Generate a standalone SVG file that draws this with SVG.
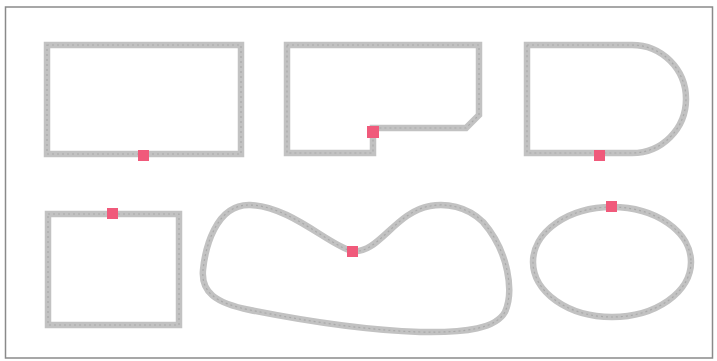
<svg xmlns="http://www.w3.org/2000/svg" width="717" height="361" viewBox="0 0 717 361">
<style>
.frame{fill:#fff;stroke:#8a8a8a;stroke-width:1.5}
.wall{fill:none;stroke:#c2c2c2;stroke-width:6.5;stroke-linejoin:miter}
.tex{fill:none;stroke:#a9a9a9;stroke-width:1.2;stroke-dasharray:2 3}
.pt{fill:#f05a7b}
</style>
<rect width="717" height="361" fill="#fff"/>
<rect class="frame" x="5.5" y="7" width="707" height="351"/>
<g id="shape-rect">
<rect class="wall" x="47" y="45" width="194" height="109"/>
<rect class="tex" x="47" y="45" width="194" height="109"/>
<rect class="pt" x="138" y="150" width="11" height="11"/>
</g>
<g id="shape-notched">
<path class="wall" d="M287,45 H479 V115 L466,128 H373 V153 H287 Z"/>
<path class="tex" d="M287,45 H479 V115 L466,128 H373 V153 H287 Z"/>
<rect class="pt" x="367" y="126" width="12" height="12"/>
</g>
<g id="shape-d">
<path class="wall" d="M527,45 H632 A54,54 0 0 1 632,153 H527 Z"/>
<path class="tex" d="M527,45 H632 A54,54 0 0 1 632,153 H527 Z"/>
<rect class="pt" x="594" y="150" width="11" height="11"/>
</g>
<g id="shape-square">
<rect class="wall" x="48" y="214" width="131" height="111"/>
<rect class="tex" x="48" y="214" width="131" height="111"/>
<rect class="pt" x="107" y="208" width="11" height="11"/>
</g>
<g id="shape-blob">
<path class="wall" d="M352,251 C330,246 290,206 250,205 C215,204 205,250 203,270 C201,292 215,303 250,310 C300,320 360,330 420,332 C468,333 496,328 505,312 C514,292 509,252 483,222 C467,206 445,203 430,206 C395,212 378,255 352,251 Z"/>
<path class="tex" d="M352,251 C330,246 290,206 250,205 C215,204 205,250 203,270 C201,292 215,303 250,310 C300,320 360,330 420,332 C468,333 496,328 505,312 C514,292 509,252 483,222 C467,206 445,203 430,206 C395,212 378,255 352,251 Z"/>
<rect class="pt" x="347" y="246" width="11" height="11"/>
</g>
<g id="shape-ellipse">
<ellipse class="wall" cx="612" cy="262" rx="79" ry="55"/>
<ellipse class="tex" cx="612" cy="262" rx="79" ry="55"/>
<rect class="pt" x="606" y="201" width="11" height="11"/>
</g>
<g id="connectors"></g>
</svg>
